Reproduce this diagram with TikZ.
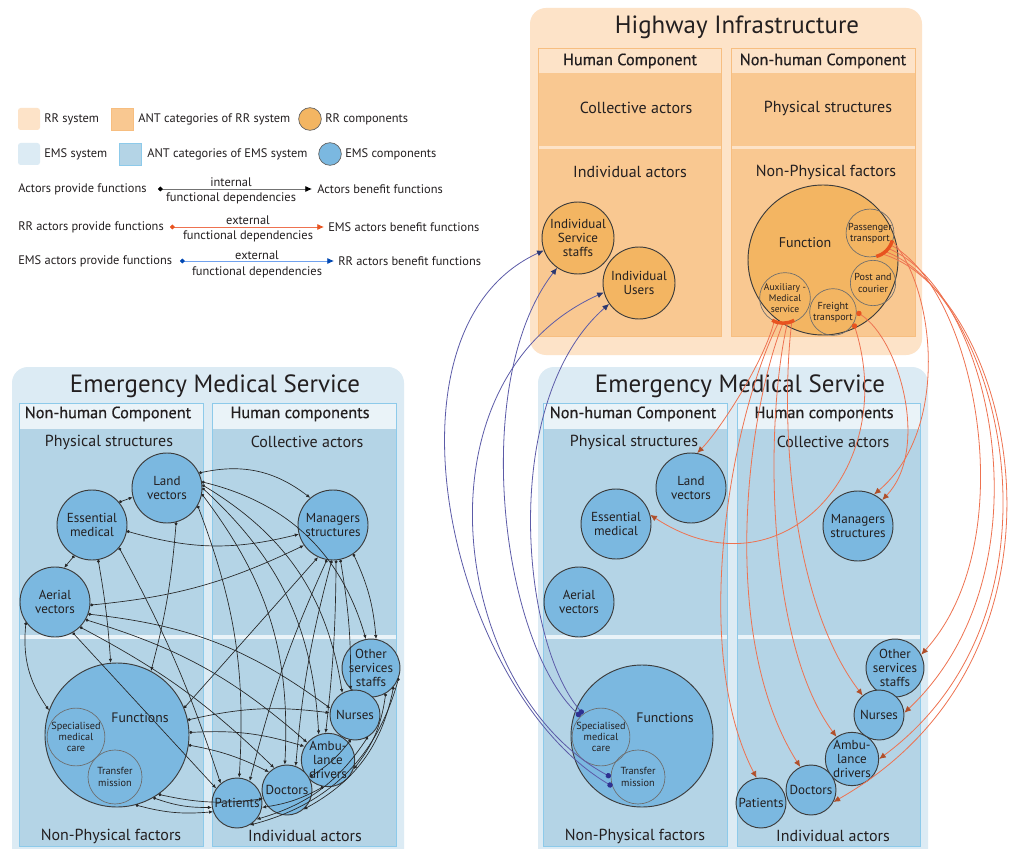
\documentclass[tikz,border=0pt]{standalone}
\usepackage{fontspec}
\setmainfont{PT Sans}
\newfontfamily\hdrfont[FakeBold=0.6]{PT Sans}
\usetikzlibrary{arrows.meta}
\definecolor{rrsys}{HTML}{FDE3C8}
\definecolor{rrant}{HTML}{F9C891}
\definecolor{rrantb}{HTML}{F7BE80}
\definecolor{rrcomp}{HTML}{F3B562}
\definecolor{emssys}{HTML}{DCEBF4}
\definecolor{emsant}{HTML}{B4D4E6}
\definecolor{emsantb}{HTML}{8DCAEA}
\definecolor{emscomp}{HTML}{7BB8E0}
\definecolor{txt}{HTML}{231F20}
\definecolor{orl}{HTML}{EE7250}
\definecolor{ora}{HTML}{B04F2A}
\definecolor{ord}{HTML}{E8531F}
\definecolor{bll}{HTML}{5C5BA8}
\definecolor{bla}{HTML}{2B3870}
\definecolor{bld}{HTML}{2E3192}
\definecolor{circb}{HTML}{3C3C3C}
\newcommand{\fsz}[2]{\fontsize{#1}{#2}\selectfont}
\tikzset{
  rrc/.style={circle, draw=circb, line width=0.7pt, fill=rrcomp, inner sep=0pt, align=center, font=\fsz{9.8}{10.6}},
  emc/.style={circle, draw=circb, line width=0.7pt, fill=emscomp, inner sep=0pt, align=center, font=\fsz{9.8}{10.6}},
  subc/.style={circle, draw=circb!75, line width=0.5pt, inner sep=0pt, align=center, font=\fsz{7.7}{8.4}},
  ttl/.style={font=\fsz{18.7}{22}},
  hdr/.style={font=\hdrfont\fsz{12.2}{14}},
  cat/.style={font=\fsz{12}{14}},
  leg/.style={font=\fsz{9.3}{11}, inner sep=0pt},
  int/.style={draw=black!85, line width=0.5pt, {Circle[length=2.2pt]}-{Latex[length=3pt,width=2.6pt]}},
  extr/.style={draw=orl, line width=0.6pt, -{Latex[length=5pt,width=4.5pt,color=ora]}},
  exte/.style={draw=bll, line width=0.6pt, {Circle[length=4pt,color=bld]}-{Latex[length=5pt,width=4.5pt,color=bla]}},
}
\begin{document}
\begin{tikzpicture}[x=0.75pt,y=0.75pt,text=txt]
\clip (0,0) rectangle (1019,-848);
\fill[white] (0,0) rectangle (1019,-848);

% ---------------- Legend ----------------
\node[fill=rrsys, rounded corners=2pt, minimum size=16.5pt, inner sep=0pt] (sw1) at (29,-119) {};
\node[leg, anchor=west] (sw1t) at (44,-119) {RR system};
\node[fill=rrant, draw=rrantb, line width=0.4pt, minimum size=16.5pt, inner sep=0pt] (sw2) at (122,-119) {};
\node[leg, anchor=west] (sw2t) at (138,-119) {ANT categories of RR system};
\node[circle, fill=rrcomp, draw=circb!80, line width=0.5pt, minimum size=17pt, inner sep=0pt] (sw3) at (310,-119) {};
\node[leg, anchor=west] (sw3t) at (325,-119) {RR components};
\node[fill=emssys, rounded corners=2pt, minimum size=16.5pt, inner sep=0pt] (sw4) at (29,-154) {};
\node[leg, anchor=west] (sw4t) at (44,-154) {EMS system};
\node[fill=emsant, draw=emsantb, line width=0.4pt, minimum size=16.5pt, inner sep=0pt] (sw5) at (130,-154) {};
\node[leg, anchor=west] (sw5t) at (147,-154) {ANT categories of EMS system};
\node[circle, fill=emscomp, draw=circb!80, line width=0.5pt, minimum size=17pt, inner sep=0pt] (sw6) at (330,-154) {};
\node[leg, anchor=west] (sw6t) at (345,-154) {EMS components};

\node[leg, anchor=west] (a1) at (18,-189) {Actors provide functions};
\coordinate (a1s) at (158,-189); \coordinate (a1e) at (312,-189);
\draw[draw=black!55, line width=0.6pt, {Circle[length=3.5pt,color=black]}-{Latex[length=5pt,width=4.5pt,color=black]}] (a1s) -- (a1e);
\node[leg] (a1u) at (231,-182) {internal};
\node[leg] (a1d) at (231,-198) {functional dependencies};
\node[leg, anchor=west] (a1b) at (317,-189) {Actors benefit functions};

\node[leg, anchor=west] (a2) at (18,-227) {RR actors provide functions};
\coordinate (a2s) at (170,-227); \coordinate (a2e) at (324,-227);
\draw[draw=orl, line width=0.6pt, {Circle[length=3.5pt,color=ord]}-{Latex[length=5pt,width=4.5pt,color=ord]}] (a2s) -- (a2e);
\node[leg] (a2u) at (248,-220) {external};
\node[leg] (a2d) at (248,-236) {functional dependencies};
\node[leg, anchor=west] (a2b) at (328,-227) {EMS actors benefit functions};

\node[leg, anchor=west] (a3) at (18,-261) {EMS actors provide functions};
\coordinate (a3s) at (180,-261); \coordinate (a3e) at (334,-261);
\draw[draw=emsantb!80!blue, line width=0.6pt, {Circle[length=3.5pt,color=blue!60!cyan!70!black]}-{Latex[length=5pt,width=4.5pt,color=blue!60!cyan!70!black]}] (a3s) -- (a3e);
\node[leg] (a3u) at (257,-255) {external};
\node[leg] (a3d) at (257,-272) {functional dependencies};
\node[leg, anchor=west] (a3b) at (338,-261) {RR actors benefit functions};

% ---------------- Highway Infrastructure ----------------
\fill[rrsys, rounded corners=12pt] (530,-8) rectangle (922,-355);
\node[ttl] (hwt) at (737,-27) {Highway Infrastructure};
\fill[rrsys] (538,-48) rectangle (721,-336);
\fill[rrant] (538,-73) rectangle (721,-146);
\fill[rrant] (538,-149) rectangle (721,-336);
\draw[rrantb, line width=0.6pt] (538,-48) rectangle (721,-336);
\fill[rrsys] (731,-48) rectangle (915,-336);
\fill[rrant] (731,-73) rectangle (915,-146);
\fill[rrant] (731,-149) rectangle (915,-336);
\draw[rrantb, line width=0.6pt] (731,-48) rectangle (915,-336);
\node[hdr] (hh1) at (630,-61) {Human Component};
\node[hdr] (hh2) at (823,-61) {Non-human Component};
\node[cat] (hc1) at (636,-108) {Collective actors};
\node[cat] (hc2) at (828,-108) {Physical structures};
\node[cat] (hc3) at (630,-172) {Individual actors};
\node[cat] (hc4) at (826,-172) {Non-Physical factors};

\node[rrc, minimum size=54pt] (hsta) at (578,-238) {Individual\\Service\\staffs};
\node[rrc, minimum size=54pt] (husr) at (639,-283) {Individual\\Users};
\node[rrc, minimum size=112.5pt] (hfun) at (823,-260) {};
\node[font=\fsz{10.5}{12}] (hfunl) at (805,-243) {Function};
\node[subc, minimum size=34pt, font=\fsz{7.6}{8.3}] (hpas) at (870,-233) {Passenger\\transport};
\node[subc, minimum size=34pt, font=\fsz{7.6}{8.3}] (hpos) at (873,-283) {Post and\\courier};
\node[subc, minimum size=35pt, font=\fsz{7.6}{8.3}] (hfre) at (833,-312) {Freight\\transport};
\node[subc, minimum size=33pt, font=\fsz{7.2}{8}] (haux) at (785,-298) {Auxiliary -\\Medical\\service};

% ---------------- EMS left ----------------
\fill[emssys, rounded corners=12pt] (12,-367) rectangle (404,-880);
\node[ttl] (lt) at (215,-386) {Emergency Medical Service};
\fill[emssys!60!white] (19,-403) rectangle (203,-846);
\fill[emsant] (19,-429) rectangle (203,-635);
\fill[emsant] (19,-639) rectangle (203,-846);
\draw[emsantb, line width=0.6pt] (19,-403) rectangle (203,-846);
\fill[emssys!60!white] (212,-403) rectangle (396,-846);
\fill[emsant] (212,-429) rectangle (396,-635);
\fill[emsant] (212,-639) rectangle (396,-846);
\draw[emsantb, line width=0.6pt] (212,-403) rectangle (396,-846);
\node[hdr] (lh1) at (108,-414) {Non-human Component};
\node[hdr] (lh2) at (300,-414) {Human components};
\node[cat] (lc1) at (109,-442) {Physical structures};
\node[cat] (lc2) at (307,-442) {Collective actors};
\node[cat] (lc3) at (111,-836) {Non-Physical factors};
\node[cat] (lc4) at (305,-836) {Individual actors};

\node[emc, minimum size=108pt] (lfun) at (117,-735) {};
\node[font=\fsz{10.3}{12}] (lfunl) at (140,-718) {Functions};
\node[subc, minimum size=40.5pt] (lspe) at (76,-737) {Specialised\\medical\\care};
\node[subc, minimum size=40.5pt] (ltra) at (115,-777) {Transfer\\mission};
\node[emc, minimum size=52.5pt] (lland) at (167,-488) {Land\\vectors};
\node[emc, minimum size=52.5pt] (less) at (92,-525) {Essential\\medical};
\node[emc, minimum size=52.5pt] (laer) at (55,-602) {Aerial\\vectors};
\node[emc, minimum size=52.5pt] (lman) at (333,-525) {Managers\\structures};
\node[emc, minimum size=37.5pt] (loth) at (371,-668) {Other\\services\\staffs};
\node[emc, minimum size=37.5pt] (lnur) at (355,-715) {Nurses};
\node[emc, minimum size=37.5pt] (lamb) at (328,-760) {Ambu-\\lance\\drivers};
\node[emc, minimum size=37.5pt] (ldoc) at (287,-790) {Doctors};
\node[emc, minimum size=37.5pt] (lpat) at (237,-803) {Patients};

% internal dependencies (left EMS)
\draw[int] (less.40) -- (lland.195);
\draw[int] (less.240) -- (laer.75);
\draw[int] (lland.25) to[bend left=25] (lman.130);
\draw[int] (less.-10) to[bend right=15] (lman.195);
\draw[int] (laer.-5) to[bend right=10] (lman.215);
\draw[int] (lland.-75) to[bend left=5] (lfun.62);
\draw[int] (less.-80) to[bend left=3] (lfun.95);
\draw[int] (less.-40) to[bend left=5] (lpat.130);
\draw[int] (laer.215) to[bend right=20] (lfun.160);
\draw[int] (lfun.22) -- (lman.245);
\draw[int] (lfun.12) to[bend left=10] (lnur.175);
\draw[int] (lfun.2) to[bend left=10] (lamb.150);
\draw[int] (lfun.-8) to[bend left=8] (ldoc.135);
\draw[int] (lfun.-60) to[bend right=10] (lpat.190);
\draw[int] (lfun.-55) to[bend right=10] (ldoc.200);
\draw[int] (laer.-20) to[bend left=15] (lnur.165);
\draw[int] (laer.-30) to[bend left=12] (lamb.140);
\draw[int] (laer.-45) to[bend left=8] (ldoc.120);
\draw[int] (laer.-60) -- (lpat.145);
\draw[int] (lland.10) to[bend left=30] (loth.100);
\draw[int] (lland.5) to[bend left=25] (lnur.120);
\draw[int] (lland.0) to[bend left=22] (lamb.110);
\draw[int] (lland.-10) to[bend left=20] (ldoc.95);
\draw[int] (lland.-30) to[bend left=12] (lpat.85);
\draw[int] (lman.-100) to[bend right=5] (lpat.60);
\draw[int] (lman.-92) to[bend right=5] (ldoc.70);
\draw[int] (lman.-85) to[bend left=3] (lamb.95);
\draw[int] (lman.-78) to[bend left=5] (lnur.100);
\draw[int] (lman.-55) to[bend left=10] (loth.80);
\draw[int] (loth.-20) to[bend left=30] (lpat.-60);
\draw[int] (loth.-40) to[bend left=25] (ldoc.-50);
\draw[int] (loth.-60) to[bend left=15] (lamb.-20);
\draw[int] (lnur.-60) to[bend left=20] (lpat.-40);
\draw[int] (lnur.-100) to[bend left=10] (ldoc.30);
\draw[int] (lamb.-100) to[bend left=10] (lpat.-10);
\draw[int] (lfun.-75) to[bend right=10] (lpat.200);

% ---------------- EMS right ----------------
\fill[emssys, rounded corners=12pt] (538,-367) rectangle (928,-880);
\node[ttl] (rt) at (740,-386) {Emergency Medical Service};
\fill[emssys!60!white] (543,-403) rectangle (727,-846);
\fill[emsant] (543,-429) rectangle (727,-635);
\fill[emsant] (543,-639) rectangle (727,-846);
\draw[emsantb, line width=0.6pt] (543,-403) rectangle (727,-846);
\fill[emssys!60!white] (737,-403) rectangle (920,-846);
\fill[emsant] (737,-429) rectangle (920,-635);
\fill[emsant] (737,-639) rectangle (920,-846);
\draw[emsantb, line width=0.6pt] (737,-403) rectangle (920,-846);
\node[hdr] (rh1) at (633,-414) {Non-human Component};
\node[hdr] (rh2) at (824,-414) {Human components};
\node[cat] (rc1) at (634,-442) {Physical structures};
\node[cat] (rc2) at (833,-442) {Collective actors};
\node[cat] (rc3) at (635,-836) {Non-Physical factors};
\node[cat] (rc4) at (833,-836) {Individual actors};

\node[emc, minimum size=106.5pt] (rfun) at (642,-736) {};
\node[font=\fsz{10.3}{12}] (rfunl) at (665,-718) {Functions};
\node[subc, minimum size=40.5pt] (rspe) at (601,-737) {Specialised\\medical\\care};
\node[subc, minimum size=40.5pt] (rtra) at (638,-777) {Transfer\\mission};
\node[emc, minimum size=52.5pt] (rland) at (691,-488) {Land\\vectors};
\node[emc, minimum size=52.5pt] (ress) at (616,-524) {Essential\\medical};
\node[emc, minimum size=52.5pt] (raer) at (579,-602) {Aerial\\vectors};
\node[emc, minimum size=52.5pt] (rman) at (858,-526) {Managers\\structures};
\node[emc, minimum size=37.5pt] (roth) at (895,-668) {Other\\services\\staffs};
\node[emc, minimum size=37.5pt] (rnur) at (879,-715) {Nurses};
\node[emc, minimum size=37.5pt] (ramb) at (852,-759) {Ambu-\\lance\\drivers};
\node[emc, minimum size=37.5pt] (rdoc) at (811,-790) {Doctors};
\node[emc, minimum size=37.5pt] (rpat) at (761,-803) {Patients};

% external: RR -> EMS (orange)
\draw[extr] (haux.-115) .. controls (765,-360) and (720,-430) .. (rland.80);
\draw[extr] (haux.-105) .. controls (730,-420) and (690,-650) .. (rpat.100);
\draw[extr] (haux.-95) .. controls (745,-420) and (720,-640) .. (rdoc.115);
\draw[extr] (haux.-85) .. controls (765,-420) and (765,-640) .. (ramb.125);
\draw[extr] (haux.-75) .. controls (780,-420) and (790,-600) .. (rnur.130);
\draw[extr, {Circle[length=4pt,color=ord]}-{Latex[length=5pt,width=4.5pt,color=ora]}] (hfre.-29) .. controls (900,-470) and (780,-600) .. (ress.15);
\draw[extr, {Circle[length=4pt,color=ord]}-{Latex[length=5pt,width=4.5pt,color=ora]}] (hfre.0) .. controls (900,-340) and (930,-450) .. (rman.47);
\draw[extr] (hpas.-20) .. controls (935,-290) and (950,-430) .. (rman.63);
\draw[extr] (hpas.-30) .. controls (975,-290) and (1025,-540) .. (roth.27);
\draw[extr] (hpas.-40) .. controls (990,-290) and (1055,-570) .. (rnur.5);
\draw[extr] (hpas.-50) .. controls (1000,-295) and (1080,-610) .. (ramb.0);
\draw[extr] (hpas.-60) .. controls (1010,-290) and (1100,-650) .. (rdoc.-28);
\draw[ord, line width=2.6pt] (haux.240) arc[start angle=240, end angle=300, radius=22];
\draw[ord, line width=2.6pt] (hpas.-75) arc[start angle=-75, end angle=-15, radius=22.7];

% external: EMS -> RR (blue)
\draw[exte] (rtra.200) .. controls (450,-690) and (370,-330) .. (hsta.200);
\draw[exte] (rspe.135) .. controls (500,-640) and (470,-380) .. (hsta.235);
\draw[exte] (rtra.180) .. controls (450,-690) and (410,-380) .. (husr.195);
\draw[exte] (rspe.128) .. controls (520,-640) and (500,-400) .. (husr.215);
\end{tikzpicture}
\end{document}
